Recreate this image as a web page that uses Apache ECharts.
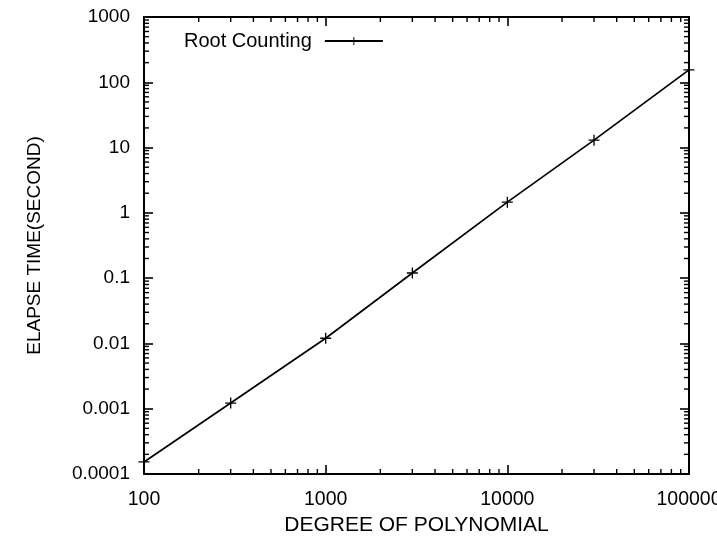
<!DOCTYPE html>
<html>
<head>
<meta charset="utf-8">
<script src="https://cdn.jsdelivr.net/npm/echarts@6/dist/echarts.min.js"></script>
<style>
html,body{margin:0;padding:0;background:#fff;}
#chart{width:717px;height:543px;}
</style>
</head>
<body>
<div id="chart"></div>
<script>
// ---- data ----
var seriesName = 'Root Counting';
var degrees = [100, 300, 1000, 3000, 10000, 30000, 100000];
var elapsed = [0.000153, 0.00122, 0.012, 0.12, 1.46, 13, 155];
var xTickLabels = ['100', '1000', '10000', '100000'];
var yTickLabels = ['0.0001', '0.001', '0.01', '0.1', '1', '10', '100', '1000'];
var xName = 'DEGREE OF POLYNOMIAL';
var yName = 'ELAPSE TIME(SECOND)';

var xMin = 100, xMax = 100000, yMin = 0.0001, yMax = 1000;

// minor tick values (2..9 within each decade)
function minorTicks(lo, hi) {
  var out = [];
  for (var d = lo; d < hi; d *= 10) {
    for (var k = 2; k <= 9; k++) out.push(d * k);
  }
  return out;
}
var xMinor = minorTicks(xMin, xMax);
var yMinor = minorTicks(yMin, yMax);

var FONT = "'Liberation Sans', Arial, sans-serif";
var plusPath = 'path://M4.4,0h1.2v4.4h4.4v1.2h-4.4v4.4h-1.2v-4.4h-4.4v-1.2h4.4z';

function labelFrom(arr, lo) {
  return function (v) {
    var i = Math.round(Math.log10(v)) - Math.round(Math.log10(lo));
    return arr[i] !== undefined ? arr[i] : '';
  };
}

var chart = echarts.init(document.getElementById('chart'), null, {renderer: 'canvas'});

var axisLineStyle = {color: '#000', width: 2};
var majorTick = {show: true, inside: true, length: 9, lineStyle: {color: '#000', width: 1.6}};

var option = {
  animation: false,
  backgroundColor: '#fff',
  grid: {left: 144, right: 28, top: 17, bottom: 69, containLabel: false, outerBoundsMode: 'none'},
  legend: {
    data: [seriesName],
    left: 179,
    top: 26,
    align: 'right',
    itemWidth: 58,
    itemHeight: 10,
    textStyle: {fontFamily: FONT, fontSize: 20, color: '#000', padding: [0, 8, 0, 0]}
  },
  xAxis: [{
    type: 'log', logBase: 10, min: xMin, max: xMax, position: 'bottom',
    axisLine: {show: true, lineStyle: axisLineStyle},
    axisTick: majorTick,
    splitLine: {show: false},
    axisLabel: {fontFamily: FONT, fontSize: 19.5, color: '#000', margin: 16, formatter: labelFrom(xTickLabels, xMin)},
    name: xName, nameLocation: 'middle', nameGap: 39,
    nameTextStyle: {fontFamily: FONT, fontSize: 21, color: '#000'}
  }, {
    type: 'log', logBase: 10, min: xMin, max: xMax, position: 'top',
    axisLine: {show: true, lineStyle: axisLineStyle},
    axisTick: majorTick,
    splitLine: {show: false},
    axisLabel: {show: false}
  }],
  yAxis: [{
    type: 'log', logBase: 10, min: yMin, max: yMax, position: 'left',
    axisLine: {show: true, lineStyle: axisLineStyle},
    axisTick: majorTick,
    splitLine: {show: false},
    axisLabel: {fontFamily: FONT, fontSize: 19, color: '#000', margin: 14, formatter: labelFrom(yTickLabels, yMin)},
    name: yName, nameLocation: 'middle', nameGap: 100,
    nameTextStyle: {fontFamily: FONT, fontSize: 19, color: '#000'}
  }, {
    type: 'log', logBase: 10, min: yMin, max: yMax, position: 'right',
    axisLine: {show: true, lineStyle: axisLineStyle},
    axisTick: majorTick,
    splitLine: {show: false},
    axisLabel: {show: false}
  }],
  series: [{
    name: seriesName,
    type: 'line',
    xAxisIndex: 0, yAxisIndex: 0,
    data: degrees.map(function (d, i) { return [d, elapsed[i]]; }),
    symbol: plusPath,
    symbolSize: 11,
    showSymbol: true,
    clip: false,
    itemStyle: {color: '#000'},
    lineStyle: {color: '#000', width: 1.7},
    emphasis: {disabled: true},
    silent: true,
    z: 5
  }, {
    name: 'xMinorTicks',
    type: 'custom',
    xAxisIndex: 0, yAxisIndex: 0,
    silent: true,
    clip: false,
    data: xMinor.map(function (v) { return [v, 1]; }),
    renderItem: function (params, api) {
      var v = api.value(0);
      var b = api.coord([v, yMin]);
      var t = api.coord([v, yMax]);
      var st = {stroke: '#000', lineWidth: 1.4};
      return {type: 'group', children: [
        {type: 'line', shape: {x1: b[0], y1: b[1], x2: b[0], y2: b[1] - 5}, style: st},
        {type: 'line', shape: {x1: t[0], y1: t[1], x2: t[0], y2: t[1] + 5}, style: st}
      ]};
    }
  }, {
    name: 'yMinorTicks',
    type: 'custom',
    xAxisIndex: 0, yAxisIndex: 0,
    silent: true,
    clip: false,
    data: yMinor.map(function (v) { return [1000, v]; }),
    renderItem: function (params, api) {
      var v = api.value(1);
      var l = api.coord([xMin, v]);
      var r = api.coord([xMax, v]);
      var st = {stroke: '#000', lineWidth: 1.4};
      return {type: 'group', children: [
        {type: 'line', shape: {x1: l[0], y1: l[1], x2: l[0] + 5, y2: l[1]}, style: st},
        {type: 'line', shape: {x1: r[0], y1: r[1], x2: r[0] - 5, y2: r[1]}, style: st}
      ]};
    }
  }]
};
chart.setOption(option);
</script>
</body>
</html>
